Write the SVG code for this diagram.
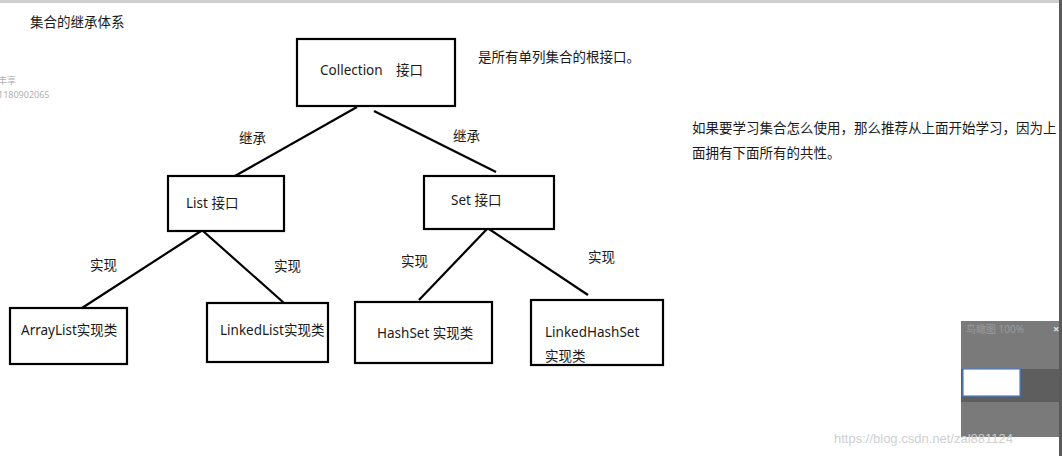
<svg xmlns="http://www.w3.org/2000/svg" width="1062" height="456" viewBox="0 0 1062 456">
<style>
text{font-family:"Noto Sans","Noto Sans CJK SC",sans-serif;font-size:13.5px;fill:#1a1a1a}
.box{fill:#fff;stroke:#000;stroke-width:2.2}
.ln{stroke:#000;stroke-width:2.2;fill:none}
.wm{fill:#b0b0b0;font-size:9px}
</style>
<rect width="1062" height="456" fill="#fff"/>
<rect x="0" y="0" width="1062" height="3" fill="#cfcfcf"/>
<rect x="1059" y="0" width="3" height="456" fill="#5a5a5a"/>
<text x="30" y="27">集合的继承体系</text>
<text class="wm" x="-2" y="84">丰享</text>
<text class="wm" x="-2" y="98">1180902065</text>
<g id="connectors">
<line class="ln" x1="357" y1="107" x2="235" y2="176"/>
<line class="ln" x1="374" y1="111" x2="496" y2="172"/>
<line class="ln" x1="201" y1="231" x2="82" y2="308"/>
<line class="ln" x1="203" y1="231" x2="284" y2="303"/>
<line class="ln" x1="487" y1="229" x2="419" y2="300"/>
<line class="ln" x1="489" y1="229" x2="588" y2="295"/>
<text x="239" y="143">继承</text>
<text x="453" y="141">继承</text>
<text x="90" y="270">实现</text>
<text x="274" y="271">实现</text>
<text x="401" y="266">实现</text>
<text x="588" y="262">实现</text>
</g>
<g id="collection">
<rect class="box" x="297" y="39" width="158" height="67"/>
<text x="320" y="75">Collection<tspan x="396">接口</tspan></text>
</g>
<text x="478" y="62">是所有单列集合的根接口。</text>
<g id="list">
<rect class="box" x="168" y="176" width="116" height="55"/>
<text x="186" y="208">List 接口</text>
</g>
<g id="set">
<rect class="box" x="424" y="176" width="130" height="53"/>
<text x="451" y="205">Set 接口</text>
</g>
<g id="arraylist">
<rect class="box" x="10" y="308" width="117" height="56"/>
<text x="21" y="335">ArrayList实现类</text>
</g>
<g id="linkedlist">
<rect class="box" x="207" y="303" width="121" height="59"/>
<text x="220" y="335">LinkedList实现类</text>
</g>
<g id="hashset">
<rect class="box" x="355" y="302" width="137" height="61"/>
<text x="377" y="338">HashSet 实现类</text>
</g>
<g id="linkedhashset">
<rect class="box" x="531" y="300" width="132" height="65"/>
<text x="545" y="337">LinkedHashSet</text>
<text x="545" y="361">实现类</text>
</g>
<text x="692" y="133">如果要学习集合怎么使用，那么推荐从上面开始学习，因为上</text>
<text x="692" y="158">面拥有下面所有的共性。</text>
<g id="overview">
<rect x="961" y="321" width="98" height="116" fill="#7a7a7a"/>
<rect x="961" y="369" width="98" height="33" fill="#5e5e5e"/>
<rect x="963" y="369" width="57" height="27" fill="#fff" stroke="#4a7fd0" stroke-width="1.2"/>
<text x="966" y="333" style="font-size:10px;fill:#9a9a9a">鸟瞰图 100%</text>
<text x="1053" y="333" style="font-size:11px;fill:#e0e0e0;font-weight:bold">×</text>
</g>
<text x="834" y="443" style="font-size:13px;fill:#d0d0d0;font-family:'Liberation Sans',sans-serif">https://blog.csdn.net/zal881124</text>
</svg>
